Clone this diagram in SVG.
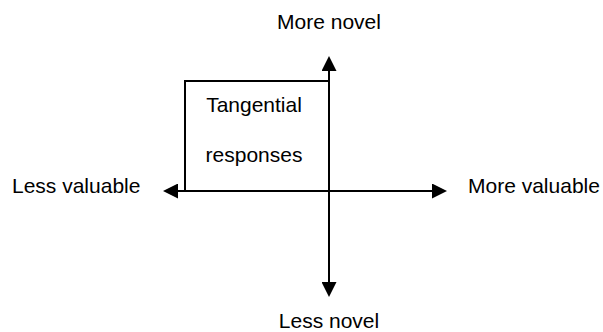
<svg xmlns="http://www.w3.org/2000/svg" width="603" height="332" viewBox="0 0 603 332">
<style>
text{font-family:"Liberation Sans",Arial,sans-serif;font-size:21px;fill:#000}
.ln{stroke:#000;stroke-width:2;fill:none}
</style>
<defs>
<marker id="ah" markerUnits="userSpaceOnUse" markerWidth="15" markerHeight="15" viewBox="0 0 15 15" refX="1" refY="7.5" orient="auto-start-reverse">
<path d="M0,0 L15,7.5 L0,15 z" fill="#000"/>
</marker>
</defs>
<rect width="603" height="332" fill="#fff"/>
<g id="connectors">
<line class="ln" x1="177" y1="191" x2="433" y2="191" marker-start="url(#ah)" marker-end="url(#ah)"/>
<line class="ln" x1="329" y1="70" x2="329" y2="283" marker-start="url(#ah)" marker-end="url(#ah)"/>
</g>
<g id="tangential">
<path class="ln" d="M185,191 V81 H329"/>
<text x="254" y="112" text-anchor="middle">Tangential</text>
<text x="254" y="162" text-anchor="middle">responses</text>
</g>
<g id="more-novel"><text x="329" y="29" text-anchor="middle">More novel</text></g>
<g id="less-novel"><text x="329" y="328" text-anchor="middle">Less novel</text></g>
<g id="less-valuable"><text x="12" y="193">Less valuable</text></g>
<g id="more-valuable"><text x="468" y="193">More valuable</text></g>
</svg>
